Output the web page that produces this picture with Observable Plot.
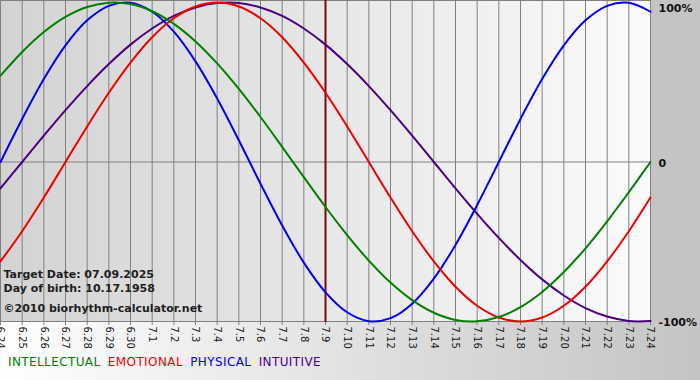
<!DOCTYPE html>
<html>
<head>
<meta charset="utf-8">
<script src="https://cdn.jsdelivr.net/npm/d3@7"></script>
<script src="https://cdn.jsdelivr.net/npm/@observablehq/plot@0.6"></script>
<style>
html, body { margin: 0; padding: 0; }
body { width: 700px; height: 380px; overflow: hidden; font-family: "DejaVu Sans", Verdana, sans-serif; }
#chart {
  position: relative; width: 700px; height: 380px;
  background:
    linear-gradient(to right, #d3d3d3, #fbfbfb) 0 0 / 650px 322px no-repeat,
    linear-gradient(#c4c4c4, #c4c4c4) 650px 0 / 50px 322px no-repeat,
    linear-gradient(to right, #ffffff, #c4c4c4) 0 322px / 700px 58px no-repeat;
}
#chart svg { position: absolute; left: 0; top: 0; }
#legend { position: absolute; left: 8px; top: 355px; font-size: 12px; line-height: 14px; letter-spacing: 0.4px; white-space: nowrap; }
#legend span { margin-right: 3px; }
</style>
</head>
<body>
<div id="chart"><div id="legend"></div></div>
<script>
const days = ["6.24","6.25","6.26","6.27","6.28","6.29","6.30","7.1","7.2","7.3","7.4","7.5","7.6","7.7","7.8","7.9","7.10","7.11","7.12","7.13","7.14","7.15","7.16","7.17","7.18","7.19","7.20","7.21","7.22","7.23","7.24"];
const targetDay = "7.9";

const intellectual = [0.541, 0.690, 0.815, 0.910, 0.972, 0.999, 0.990, 0.945, 0.866, 0.756, 0.618, 0.458, 0.282, 0.095, -0.095, -0.282, -0.458, -0.618, -0.756, -0.866, -0.945, -0.990, -0.999, -0.972, -0.910, -0.815, -0.690, -0.541, -0.372, -0.189, 0];
const emotional = [-0.623, -0.434, -0.223, 0, 0.223, 0.434, 0.623, 0.782, 0.901, 0.975, 1, 0.975, 0.901, 0.782, 0.623, 0.434, 0.223, 0, -0.223, -0.434, -0.623, -0.782, -0.901, -0.975, -1, -0.975, -0.901, -0.782, -0.623, -0.434, -0.223];
const physical = [0, 0.270, 0.520, 0.731, 0.888, 0.979, 0.998, 0.942, 0.817, 0.631, 0.398, 0.136, -0.136, -0.398, -0.631, -0.817, -0.942, -0.998, -0.979, -0.888, -0.731, -0.520, -0.270, 0, 0.270, 0.520, 0.731, 0.888, 0.979, 0.998, 0.942];
const intuitive = [-0.165, 0, 0.165, 0.325, 0.476, 0.614, 0.736, 0.837, 0.916, 0.969, 0.997, 0.997, 0.969, 0.916, 0.837, 0.736, 0.614, 0.476, 0.325, 0.165, 0, -0.165, -0.325, -0.476, -0.614, -0.736, -0.837, -0.916, -0.969, -0.997, -0.997];

const seriesNames = ["INTELLECTUAL", "EMOTIONAL", "PHYSICAL", "INTUITIVE"];
const seriesColors = ["#008000", "#ee0000", "#0000ee", "#4b0082"];
const yTicks = [1, 0, -1];
const yLabels = ["100%", "0", "-100%"];
const infoLines = ["Target Date: 07.09.2025", "Day of birth: 10.17.1958", "©2010 biorhythm-calculator.net"];

const seriesValues = [intellectual, emotional, physical, intuitive];
const rows = [];
seriesValues.forEach((vals, s) => vals.forEach((v, i) => rows.push({series: seriesNames[s], day: days[i], value: v})));
const drawOrder = ["INTUITIVE", "PHYSICAL", "EMOTIONAL", "INTELLECTUAL"];

const ticksData = yTicks.map((v, i) => ({v, label: yLabels[i]}));
const font = "DejaVu Sans, Verdana, sans-serif";

const plot = Plot.plot({
  width: 700,
  height: 350,
  marginTop: 2,
  marginBottom: 29,
  marginLeft: 0,
  marginRight: 50,
  style: {background: "transparent", fontFamily: font, overflow: "visible"},
  x: {type: "point", domain: days, padding: 0, round: false, label: null},
  y: {domain: [-1, 1], axis: null},
  marks: [
    Plot.ruleX(days, {stroke: "#808080", strokeWidth: 1, strokeOpacity: 1, insetTop: -2, insetBottom: -4}),
    Plot.ruleY([0, -1], {stroke: "#808080", strokeWidth: 1}),
    Plot.ruleY([1], {stroke: "#808080", strokeWidth: 1, dy: -2}),
    Plot.ruleX([targetDay], {stroke: "#7a0a0a", strokeWidth: 2, insetTop: -2, insetBottom: -1}),
    ...drawOrder.map(name => Plot.line(rows.filter(r => r.series === name), {
      x: "day", y: "value", stroke: seriesColors[seriesNames.indexOf(name)], strokeWidth: 2, curve: "catmull-rom"
    })),
    Plot.axisX({tickRotate: 90, tickSize: 0, tickPadding: 5, fontSize: 10, fill: "#1a1a1a", fontFamily: font, label: null}),
    ...infoLines.map((t, i) => Plot.text([t], {
      text: d => d, frameAnchor: "top-left", textAnchor: "start", lineAnchor: "bottom",
      dx: 3, dy: [275, 289, 309][i], fontSize: 11, fontWeight: "bold", fill: "#1e1e1e", fontFamily: font
    })),
    Plot.text(ticksData.slice(0, 1), {
      y: "v", text: "label", frameAnchor: "right", textAnchor: "start", lineAnchor: "bottom",
      dx: 8, dy: 9, fontSize: 11, fontWeight: "bold", fill: "#111", fontFamily: font
    }),
    Plot.text(ticksData.slice(1), {
      y: "v", text: "label", frameAnchor: "right", textAnchor: "start", lineAnchor: "bottom",
      dx: 8, dy: 4.5, fontSize: 11, fontWeight: "bold", fill: "#111", fontFamily: font
    })
  ]
});
document.getElementById("chart").prepend(plot);

const legend = document.getElementById("legend");
seriesNames.forEach((n, i) => {
  const s = document.createElement("span");
  s.textContent = n;
  s.style.color = seriesColors[i];
  legend.appendChild(s);
  legend.appendChild(document.createTextNode(" "));
});
</script>
</body>
</html>
